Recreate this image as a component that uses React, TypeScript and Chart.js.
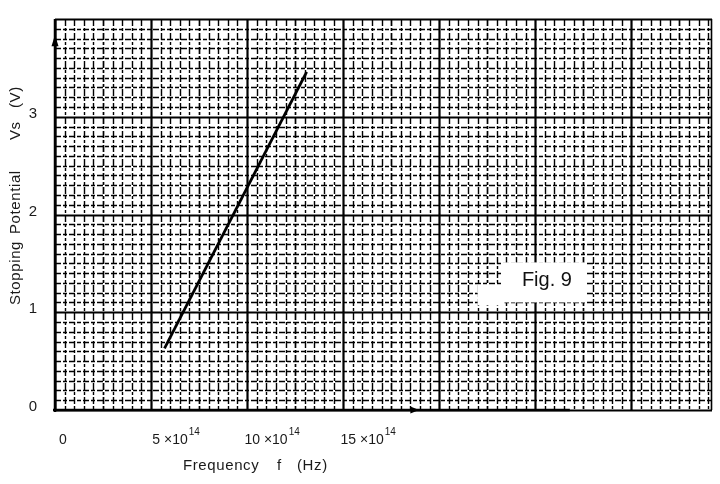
import React, { useEffect, useRef } from "react";
import { Chart, registerables } from "chart.js";

Chart.register(...registerables);

// ---- data (frequency in units of 10^14 Hz, stopping potential in V) ----
const lineFreq: number[] = [5.7, 13.1];
const lineVs: number[] = [0.63, 3.46];

const xTickValues: number[] = [0, 5, 10, 15];
const xTickBase: string[] = ["0", "5 ×10", "10 ×10", "15 ×10"];
const xTickExp: string[] = ["", "14", "14", "14"];
const yTickValues: number[] = [0, 1, 2, 3];
const yTickLabels: string[] = ["0", "1", "2", "3"];

const xMin = 0;
const xMax = 34.2;
const xStep = 0.5;
const yMin = 0;
const yMax = 4;
const yStep = 0.1;

const xAxisEnd = 26.8;
const xArrow = [18.5, 18.95];
const yArrow = [3.72, 3.84];
const figBox = [23.3, 27.6, 1.1, 1.51];
const figPatch = [22.0, 23.4, 1.07, 1.28];
const figText = "Fig. 9";

const FONT = "'Liberation Sans', sans-serif";

const near = (v: number, m: number) => {
  const r = v / m;
  return Math.abs(r - Math.round(r)) < 1e-6;
};

const paperPlugin = {
  id: "paper",
  beforeDatasetsDraw(chart: any) {
    const { ctx, chartArea, scales } = chart;
    const { left, right, top, bottom } = chartArea;
    const x = scales.x;
    const y = scales.y;
    ctx.save();
    // vertical grid
    for (const t of x.ticks) {
      const v = t.value;
      const px = Math.round(x.getPixelForValue(v)) + 0.5;
      const major = near(v, 5);
      const mid = near(v, 2.5);
      ctx.beginPath();
      ctx.lineWidth = major ? 2.2 : mid ? 1.7 : 1.4;
      ctx.strokeStyle = "#000";
      ctx.setLineDash(major ? [] : [7, 2, 3, 2]);
      ctx.moveTo(px, top);
      ctx.lineTo(px, bottom);
      ctx.stroke();
    }
    // right edge of the paper
    ctx.setLineDash([]);
    ctx.lineWidth = 1.6;
    ctx.beginPath();
    ctx.moveTo(right - 0.5, top);
    ctx.lineTo(right - 0.5, bottom);
    ctx.stroke();
    // horizontal grid
    for (const t of y.ticks) {
      const v = t.value;
      const py = Math.round(y.getPixelForValue(v)) + 0.5;
      const major = near(v, 1);
      const mid = near(v, 0.5);
      ctx.beginPath();
      ctx.lineWidth = major ? 2.2 : mid ? 1.7 : 1.4;
      ctx.strokeStyle = "#000";
      ctx.setLineDash(major ? [] : [6, 2, 4, 2]);
      ctx.moveTo(left, py);
      ctx.lineTo(right, py);
      ctx.stroke();
    }
    ctx.setLineDash([]);
    // axes
    ctx.strokeStyle = "#000";
    ctx.lineWidth = 2.5;
    ctx.beginPath();
    ctx.moveTo(x.getPixelForValue(0), top);
    ctx.lineTo(x.getPixelForValue(0), bottom + 2);
    ctx.stroke();
    ctx.beginPath();
    ctx.moveTo(x.getPixelForValue(0) - 2, y.getPixelForValue(0));
    ctx.lineTo(x.getPixelForValue(xAxisEnd), y.getPixelForValue(0));
    ctx.stroke();
    // arrow heads
    ctx.fillStyle = "#000";
    const ax = x.getPixelForValue(0);
    ctx.beginPath();
    ctx.moveTo(ax, y.getPixelForValue(yArrow[1]));
    ctx.lineTo(ax - 3.5, y.getPixelForValue(yArrow[0]));
    ctx.lineTo(ax + 3.5, y.getPixelForValue(yArrow[0]));
    ctx.closePath();
    ctx.fill();
    const ay = y.getPixelForValue(0);
    ctx.beginPath();
    ctx.moveTo(x.getPixelForValue(xArrow[1]), ay);
    ctx.lineTo(x.getPixelForValue(xArrow[0]), ay - 3.5);
    ctx.lineTo(x.getPixelForValue(xArrow[0]), ay + 3.5);
    ctx.closePath();
    ctx.fill();
    // Fig. 9 label box
    ctx.fillStyle = "#fff";
    const bx0 = x.getPixelForValue(figBox[0]);
    const bx1 = x.getPixelForValue(figBox[1]);
    const by0 = y.getPixelForValue(figBox[3]);
    const by1 = y.getPixelForValue(figBox[2]);
    ctx.fillRect(bx0, by0, bx1 - bx0, by1 - by0);
    const px0 = x.getPixelForValue(figPatch[0]);
    const px1 = x.getPixelForValue(figPatch[1]);
    const py0 = y.getPixelForValue(figPatch[3]);
    const py1 = y.getPixelForValue(figPatch[2]);
    ctx.fillRect(px0, py0, px1 - px0, py1 - py0);
    ctx.fillStyle = "#111";
    ctx.font = `20px ${FONT}`;
    ctx.textAlign = "center";
    ctx.textBaseline = "middle";
    ctx.fillText(figText, (bx0 + bx1) / 2 + 3, (by0 + by1) / 2 - 2);
    ctx.restore();
  },
  afterDraw(chart: any) {
    const { ctx, chartArea, scales } = chart;
    const { left, bottom } = chartArea;
    const x = scales.x;
    ctx.save();
    ctx.fillStyle = "#1a1a1a";
    ctx.textBaseline = "alphabetic";
    ctx.textAlign = "left";
    // x tick labels with superscript exponent
    xTickValues.forEach((v, i) => {
      const px = x.getPixelForValue(v);
      ctx.font = `14px ${FONT}`;
      const base = xTickBase[i];
      const bw = ctx.measureText(base).width;
      ctx.font = `10px ${FONT}`;
      const ew = xTickExp[i] ? ctx.measureText(xTickExp[i]).width + 1 : 0;
      const total = bw + ew;
      const startX = xTickExp[i] ? px + 25 - total / 2 : px + 8 - total / 2;
      ctx.font = `14px ${FONT}`;
      ctx.fillText(base, startX, bottom + 34);
      if (xTickExp[i]) {
        ctx.font = `10px ${FONT}`;
        ctx.fillText(xTickExp[i], startX + bw + 1, bottom + 25);
      }
    });
    ctx.font = `15px ${FONT}`;
    (ctx as any).letterSpacing = "0.6px";
    ctx.textBaseline = "middle";
    // y-axis title
    ctx.save();
    ctx.translate(left - 39, bottom);
    ctx.rotate(-Math.PI / 2);
    ctx.fillText("Stopping", 105, 0);
    ctx.fillText("Potential", 176, 0);
    ctx.fillText("Vs", 270, 0);
    ctx.fillText("(V)", 302, 0);
    ctx.restore();
    // x-axis title
    ctx.fillText("Frequency", left + 128, bottom + 56);
    ctx.fillText("f", left + 222, bottom + 56);
    ctx.fillText("(Hz)", left + 242, bottom + 56);
    ctx.restore();
  },
};

export default function App() {
  const ref = useRef<HTMLCanvasElement | null>(null);

  useEffect(() => {
    if (!ref.current) return;
    const points = lineFreq.map((f, i) => ({ x: f, y: lineVs[i] }));
    const chart = new Chart(ref.current, {
      type: "scatter",
      data: {
        datasets: [
          {
            label: "Vs",
            data: points,
            showLine: true,
            borderColor: "#000",
            borderWidth: 2.8,
            pointRadius: 0,
          },
        ],
      },
      options: {
        animation: false,
        responsive: true,
        maintainAspectRatio: false,
        layout: { padding: { top: 9, right: 8, left: 0, bottom: 0 } },
        plugins: { legend: { display: false }, tooltip: { enabled: false } },
        scales: {
          x: {
            type: "linear",
            min: xMin,
            max: xMax,
            grid: { display: false },
            border: { display: false },
            afterFit: (s: any) => {
              s.height = 74;
            },
            ticks: {
              stepSize: xStep,
              autoSkip: false,
              maxRotation: 0,
              includeBounds: false,
              display: true,
              color: "rgba(0,0,0,0)",
              font: { family: FONT, size: 14 },
              callback: () => "",
            },
          },
          y: {
            type: "linear",
            min: yMin,
            max: yMax,
            grid: { display: false },
            border: { display: false },
            afterFit: (s: any) => {
              s.width = 55;
            },
            ticks: {
              stepSize: yStep,
              autoSkip: false,
              includeBounds: false,
              padding: 10,
              labelOffset: -3,
              color: "#1a1a1a",
              font: { family: FONT, size: 15 },
              callback: (v: any) => {
                const i = yTickValues.findIndex((t) => Math.abs(t - Number(v)) < 1e-6);
                return i >= 0 ? yTickLabels[i] : "";
              },
            },
          },
        },
      },
      plugins: [paperPlugin],
    });
    return () => chart.destroy();
  }, []);

  return (
    <div
      style={{
        position: "fixed",
        left: 0,
        top: 0,
        width: 720,
        height: 484,
        background: "#fff",
      }}
    >
      <canvas ref={ref} />
    </div>
  );
}
